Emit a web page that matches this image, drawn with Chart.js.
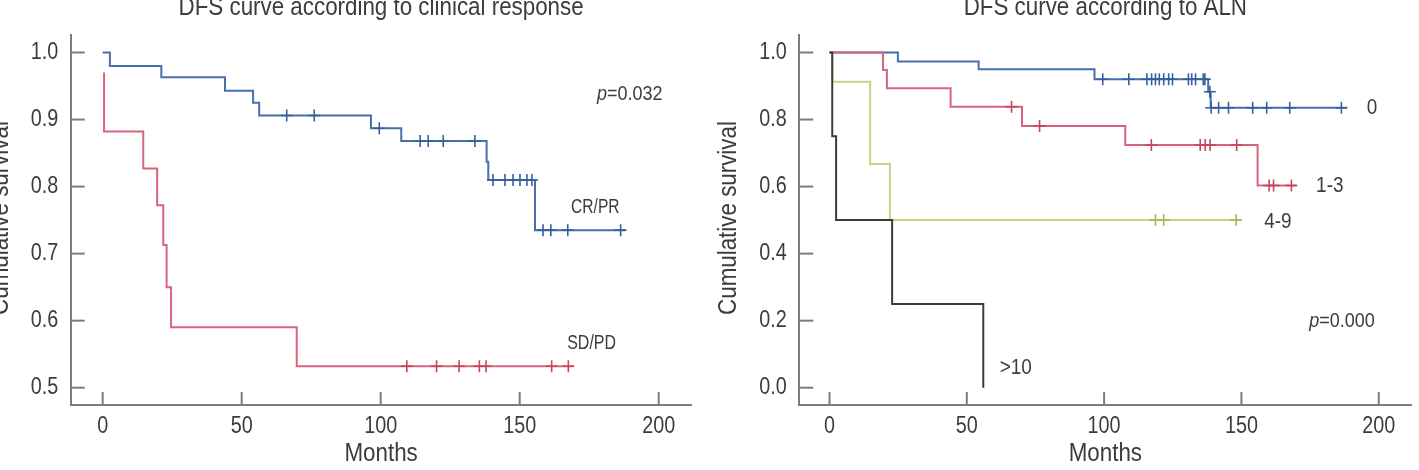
<!DOCTYPE html>
<html>
<head>
<meta charset="utf-8">
<script src="https://cdn.jsdelivr.net/npm/chart.js@4.4.0/dist/chart.umd.min.js"></script>
<style>
  html, body { margin: 0; padding: 0; background: #fff; overflow: hidden; }
  .panel { position: absolute; top: 0; height: 470px; }
  #left { left: 0; width: 709px; }
  #right { left: 709px; width: 710px; }
</style>
</head>
<body>
<div class="panel" id="left"><canvas id="chartLeft"></canvas></div>
<div class="panel" id="right"><canvas id="chartRight"></canvas></div>
<script>
// ---- data (months / cumulative survival) ----
const xTicks = [0, 50, 100, 150, 200];
const leftYTicks = [0.5, 0.6, 0.7, 0.8, 0.9, 1.0];
const rightYTicks = [0.0, 0.2, 0.4, 0.6, 0.8, 1.0];

// left panel: clinical response
const crTimes = [0, 2.6, 21.1, 44, 54.1, 56.3, 96.5, 107.4, 138.1, 138.7, 155.5, 187.9];
const crSurv = [1.0, 0.980, 0.963, 0.943, 0.925, 0.906, 0.887, 0.868, 0.837, 0.810, 0.735, 0.735];
const crCensor = [66.2, 76.1, 99.5, 114.2, 117.1, 122.5, 133.9, 140.4, 144.7, 147.6, 150.1, 152.6, 154.4, 158.4, 161.2, 167.3, 186.3];

const sdTimes = [0.5, 0.5, 14.6, 19.6, 21.8, 23, 24.6, 69.8, 169.3];
const sdSurv = [0.970, 0.882, 0.827, 0.772, 0.713, 0.650, 0.590, 0.532, 0.532];
const sdCensor = [109.4, 120.1, 128.2, 135.5, 137.9, 161.5, 167.5];

// right panel: ALN
const aln0Times = [0, 24.9, 54.3, 96.5, 137.9, 138.8, 188.5];
const aln0Surv = [1.0, 0.973, 0.950, 0.920, 0.883, 0.835, 0.835];
const aln0Censor = [99.5, 109, 115.6, 117.3, 118.7, 120.1, 121.7, 123.5, 124.9, 130.7, 131.9, 133.3, 136.1, 136.7, 138.5, 139, 141.7, 145.3, 154.1, 159.2, 167.6, 186.4];

const aln13Times = [0, 19.5, 20.9, 44.1, 70.1, 107.7, 155.9, 170];
const aln13Surv = [1.0, 0.948, 0.893, 0.838, 0.781, 0.724, 0.603, 0.603];
const aln13Censor = [66.3, 76.5, 117.2, 135, 136.8, 138.6, 148.3, 160.1, 161.7, 168.2];

const aln49Times = [0, 1, 14.8, 22, 149.9];
const aln49Surv = [1.0, 0.913, 0.667, 0.5, 0.5];
const aln49Censor = [118.7, 121.7, 148.1];

const aln10Times = [0, 1, 2.4, 22.8, 56];
const aln10Surv = [1.0, 0.75, 0.5, 0.25, 0.0];

// no condensed face installed, so text is squeezed horizontally
const FONT = "'Liberation Sans', Arial, sans-serif";
const SQUEEZE = 0.86;
const TEXT = '#3c3c3c';
const AXIS = '#7c7c7c';

function toPoints(times, surv) {
  return times.map((t, i) => ({ x: t, y: surv[i] }));
}

function survAt(times, surv, t) {
  let s = surv[0];
  for (let i = 0; i < times.length; i++) {
    if (times[i] <= t) s = surv[i];
  }
  return s;
}

function curve(times, surv, color) {
  return {
    type: 'line',
    data: toPoints(times, surv),
    stepped: true,
    borderColor: color,
    borderWidth: 2,
    pointRadius: 0,
    fill: false
  };
}

function censors(times, surv, cens, color) {
  return {
    type: 'line',
    data: cens.map(t => ({ x: t, y: survAt(times, surv, t) })),
    showLine: false,
    pointStyle: 'cross',
    pointRadius: 6,
    pointBorderWidth: 1.6,
    pointBorderColor: color,
    pointBackgroundColor: color
  };
}

function narrowText(ctx, text, x, y, size, align, rot, italic, sq) {
  const k = sq || SQUEEZE;
  ctx.save();
  ctx.translate(x, y);
  if (rot) ctx.rotate(rot);
  ctx.scale(k, 1);
  ctx.font = (italic ? 'italic ' : '') + size + 'px ' + FONT;
  ctx.textAlign = align;
  ctx.textBaseline = 'middle';
  ctx.fillText(text, 0, 0);
  const w = ctx.measureText(text).width * k;
  ctx.restore();
  return w;
}

// titles, axis titles, tick marks and labels, in-plot labels
const kmAnno = {
  id: 'kmAnno',
  afterDraw(chart, args, opts) {
    const { ctx, chartArea } = chart;
    const xs = chart.scales.x, ys = chart.scales.y;
    ctx.save();

    // inner tick marks
    ctx.strokeStyle = AXIS;
    ctx.lineWidth = 2;
    xTicks.forEach(v => {
      const px = xs.getPixelForValue(v);
      ctx.beginPath();
      ctx.moveTo(px, chartArea.bottom);
      ctx.lineTo(px, chartArea.bottom - 13);
      ctx.stroke();
    });
    opts.yTicks.forEach(v => {
      const py = ys.getPixelForValue(v);
      ctx.beginPath();
      ctx.moveTo(chartArea.left, py);
      ctx.lineTo(chartArea.left + 14, py);
      ctx.stroke();
    });

    ctx.fillStyle = TEXT;
    xTicks.forEach(v => {
      narrowText(ctx, String(v), xs.getPixelForValue(v), 427, 23, 'center');
    });
    opts.yTicks.forEach(v => {
      narrowText(ctx, v.toFixed(1), chartArea.left - 12.5, ys.getPixelForValue(v), 23, 'right');
    });

    const cx = (chartArea.left + chartArea.right) / 2;
    narrowText(ctx, opts.title, cx, 8, 26, 'center');
    narrowText(ctx, 'Months', cx, 454, 26, 'center');
    narrowText(ctx, 'Cumulative survival', chartArea.left - 70, 218, 26, 'center', -Math.PI / 2);

    opts.labels.forEach(l => {
      const px = xs.getPixelForValue(l.x);
      const py = ys.getPixelForValue(l.y);
      if (l.pval) {
        const w = narrowText(ctx, l.text, px, py, l.size, 'right', 0, false, l.sq);
        narrowText(ctx, 'p', px - w, py, l.size, 'right', 0, true, l.sq);
      } else {
        narrowText(ctx, l.text, px, py, l.size, l.align, 0, false, l.sq);
      }
    });
    ctx.restore();
  }
};

function makeChart(id, datasets, xmin, xmax, ymin, ymax, yTicks, yWidth, padRight, title, labels) {
  return new Chart(document.getElementById(id), {
    type: 'line',
    data: { datasets },
    plugins: [kmAnno],
    options: {
      responsive: true,
      maintainAspectRatio: false,
      animation: false,
      devicePixelRatio: 1,
      layout: { padding: { top: 35, right: padRight, left: 0, bottom: 0 } },
      plugins: {
        legend: { display: false },
        tooltip: { enabled: false },
        kmAnno: { title, labels, yTicks }
      },
      scales: {
        x: {
          type: 'linear',
          min: xmin,
          max: xmax,
          afterBuildTicks: s => { s.ticks = xTicks.map(v => ({ value: v })); },
          afterFit: s => { s.height = 65; },
          grid: { display: false, drawTicks: false },
          border: { display: true, color: AXIS, width: 2 },
          ticks: { display: false }
        },
        y: {
          type: 'linear',
          min: ymin,
          max: ymax,
          afterBuildTicks: s => { s.ticks = yTicks.map(v => ({ value: v })); },
          afterFit: s => { s.width = yWidth; },
          grid: { display: false, drawTicks: false },
          border: { display: true, color: AXIS, width: 2 },
          ticks: { display: false }
        }
      }
    }
  });
}

const BLUE = '#4470ab', BLUE_M = '#35609e';
const RED = '#d8647c', RED_M = '#c8455f';
const YEL = '#c8d184', YEL_M = '#a9b65a';
const BLK = '#3e3c30';

makeChart('chartLeft', [
  censors(sdTimes, sdSurv, sdCensor, RED_M),
  censors(crTimes, crSurv, crCensor, BLUE_M),
  curve(sdTimes, sdSurv, RED),
  curve(crTimes, crSurv, BLUE)
], -11.5, 211.8, 0.4742, 1.0261, leftYTicks, 70.7, 17.5,
'DFS curve according to clinical response', [
  { text: '=0.032', x: 201.4, y: 0.937, size: 20, pval: true, sq: 0.9 },
  { text: 'CR/PR', x: 168.5, y: 0.769, size: 21, align: 'left', sq: 0.74 },
  { text: 'SD/PD', x: 167.1, y: 0.567, size: 21, align: 'left', sq: 0.76 }
]);

makeChart('chartRight', [
  censors(aln0Times, aln0Surv, aln0Censor, BLUE_M),
  censors(aln13Times, aln13Surv, aln13Censor, RED_M),
  censors(aln49Times, aln49Surv, aln49Censor, YEL_M),
  curve(aln10Times, aln10Surv, BLK),
  curve(aln13Times, aln13Surv, RED),
  curve(aln49Times, aln49Surv, YEL),
  curve(aln0Times, aln0Surv, BLUE)
], -11.0, 211.9, -0.0516, 1.0522, rightYTicks, 90.3, 0,
'DFS curve according to ALN', [
  { text: '0', x: 197.6, y: 0.8335, size: 22, align: 'center' },
  { text: '1-3', x: 177.2, y: 0.603, size: 22, align: 'left' },
  { text: '4-9', x: 158.3, y: 0.495, size: 22, align: 'left' },
  { text: '>10', x: 62, y: 0.058, size: 22, align: 'left' },
  { text: '=0.000', x: 198.6, y: 0.197, size: 20, pval: true, sq: 0.9 }
]);
</script>
</body>
</html>
